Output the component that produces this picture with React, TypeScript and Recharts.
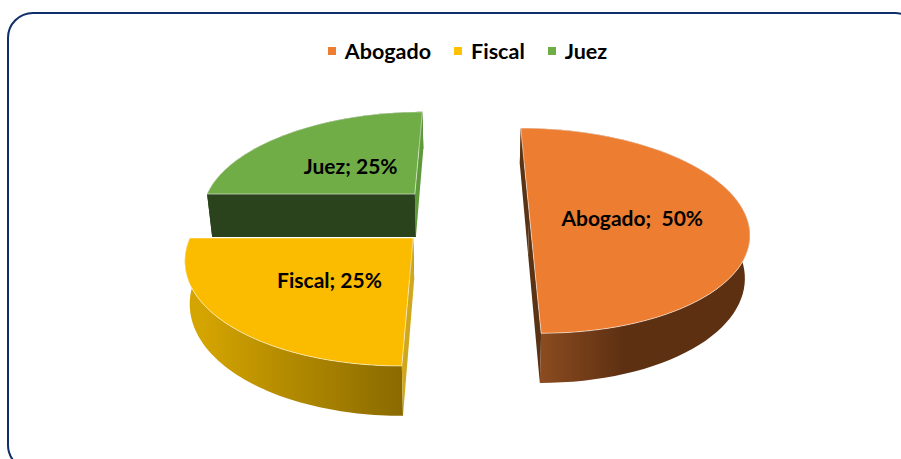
import React from "react";
import { PieChart, Pie, Legend } from "recharts";

const names = ["Abogado", "Fiscal", "Juez"];
const shares = [50, 25, 25];
const separators = [";\u00A0\u00A0", ";\u00A0", ";\u00A0"];
const topColors = ["#ED7D31", "#FBBC00", "#70AD47"];
const legendColors = ["#ED7D31", "#FFC000", "#70AD47"];
const sideStops = [
  ["#8C4C20", "#8C4C20", "#5E3012", "#5E3012"],
  ["#D4A400", "#D4A400", "#B58C00", "#8A6A00"],
  ["#2B431C", "#2B431C", "#2B431C", "#2B431C"],
];
const stopOffsets = ["0%", "8%", "45%", "100%"];
const startFaceColors = ["#5A3214", "#D0A81E", "#2B431C"];
const endFaceColors = ["#5A3214", "#8A6A00", "#5F9A3A"];
// Explosion of each slice from the pie centre and its radii, in pie units
const explodeX = [0.275, 0.245, 0.2555];
const explodeY = [0, 0.233, 0.204];
const radiusX = [0.985, 0.98, 0.98];
const radiusY = [1, 0.986, 1.024];
const drops = [252, 242, 270];
const labelShiftY = [4, 4, 1];

const rows = names.map((name, i) => ({ name, value: shares[i], fill: legendColors[i] }));

// Perspective camera of the 3D pie
const FOCAL_X = 1330;
const FOCAL_Y = 3677;
const CAMERA_DIST = 6.07;
const HORIZON = -392;
const RAD = Math.PI / 180;
const STEPS = 72;

function project(cx: number, X: number, Y: number, drop: number) {
  const w = Y + CAMERA_DIST;
  const f = 1 - (drop / 250) * 0.018;
  return [cx + (FOCAL_X * X * f) / w, HORIZON + (FOCAL_Y + drop) / w];
}
const toPath = (pts: number[][]) =>
  "M" + pts.map((p) => `${p[0].toFixed(2)},${p[1].toFixed(2)}`).join("L") + "Z";

function apexOf(i: number, midDeg: number) {
  return [
    explodeX[i] * Math.sign(Math.round(Math.cos(midDeg * RAD) * 1000)),
    explodeY[i] * Math.sign(Math.round(Math.sin(midDeg * RAD) * 1000)),
  ];
}

function Slice3D(props: any) {
  const { cx, startAngle, endAngle } = props;
  const name = props.payload?.name ?? props.name;
  const i = names.indexOf(name);
  const [ax, ay] = apexOf(i, (startAngle + endAngle) / 2);
  const d = drops[i];
  const at = (deg: number, drop: number) =>
    project(cx, ax + radiusX[i] * Math.cos(deg * RAD), ay + radiusY[i] * Math.sin(deg * RAD), drop);
  const angles: number[] = [];
  for (let k = 0; k <= STEPS; k++) angles.push(startAngle + ((endAngle - startAngle) * k) / STEPS);
  const topArc = angles.map((a) => at(a, 0));
  const botArc = angles.map((a) => at(a, d));
  const apexTop = project(cx, ax, ay, 0);
  const apexBot = project(cx, ax, ay, d);
  const gid = `side-${i}`;
  return (
    <g>
      <defs>
        <linearGradient id={gid} x1="0" y1="0" x2="1" y2="0">
          {sideStops[i].map((c, k) => (
            <stop key={k} offset={stopOffsets[k]} stopColor={c} />
          ))}
        </linearGradient>
      </defs>
      <path d={toPath([...topArc, ...[...botArc].reverse()])} fill={`url(#${gid})`} />
      <path d={toPath([apexTop, at(endAngle, 0), at(endAngle, d), apexBot])} fill={endFaceColors[i]} />
      <path d={toPath([apexTop, at(startAngle, 0), at(startAngle, d), apexBot])} fill={startFaceColors[i]} />
      <path
        d={toPath([apexTop, ...topArc])}
        fill={topColors[i]}
        stroke="#FFFFFF"
        strokeOpacity={0.55}
        strokeWidth={1}
        strokeLinejoin="round"
      />
    </g>
  );
}

function SliceLabel(props: any) {
  const { cx, midAngle, name, value } = props;
  const i = names.indexOf(name);
  const m = midAngle * RAD;
  const [ax, ay] = apexOf(i, midAngle);
  const [x, y] = project(cx, ax + 0.47 * Math.cos(m), ay + 0.47 * Math.sin(m), 0);
  return (
    <text
      x={x}
      y={y + labelShiftY[i]}
      textAnchor="middle"
      dominantBaseline="central"
      fontFamily="Lato, sans-serif"
      fontWeight={700}
      fontSize={21}
      fill="#000000"
    >
      {`${name}${separators[i]}${value}%`}
    </text>
  );
}

function LegendRow({ payload }: any) {
  return (
    <div style={{ display: "flex", justifyContent: "center", alignItems: "center", fontFamily: "Lato, sans-serif", fontWeight: 700, fontSize: 21.5, color: "#000" }}>
      {(payload || []).map((p: any, k: number) => (
        <span key={k} style={{ display: "inline-flex", alignItems: "center", marginLeft: k ? 23 : 0 }}>
          <span style={{ width: 8, height: 8, background: p.color, marginRight: 9, display: "inline-block" }} />
          {p.value}
        </span>
      ))}
    </div>
  );
}

export default function App() {
  return (
    <div style={{ position: "absolute", left: 0, top: 0, width: 901, height: 459, overflow: "hidden", background: "#fff" }}>
      <div
        style={{
          position: "absolute",
          left: 7,
          top: 12,
          width: 910,
          height: 455,
          border: "2px solid #0F2D6B",
          borderRadius: 26,
          boxSizing: "content-box",
        }}
      />
      <div style={{ position: "absolute", left: 0, top: 0 }}>
        <PieChart width={901} height={459} margin={{ top: 0, right: 0, bottom: 0, left: 0 }}>
          <Legend
            content={<LegendRow />}
            verticalAlign="top"
            wrapperStyle={{ position: "absolute", top: 38, left: 0, width: 935 }}
          />
          <Pie
            data={rows}
            dataKey="value"
            nameKey="name"
            cx={469}
            cy={230}
            outerRadius={100}
            startAngle={90}
            endAngle={-270}
            stroke="none"
            isAnimationActive={false}
            shape={(p: any) => <Slice3D {...p} />}
            label={(p: any) => <SliceLabel {...p} />}
            labelLine={false}
          />
        </PieChart>
      </div>
    </div>
  );
}
